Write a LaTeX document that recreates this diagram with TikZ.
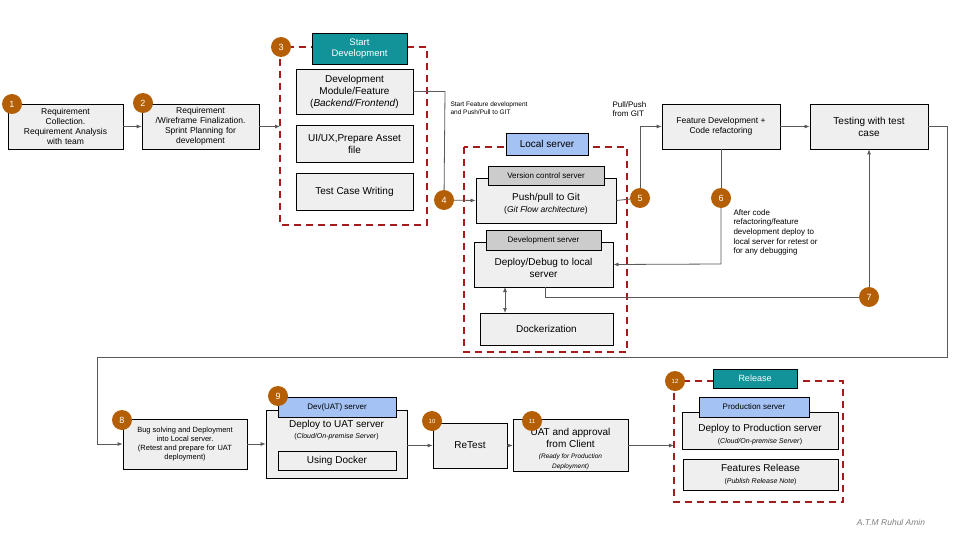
\documentclass[tikz,border=0pt]{standalone}
\usepackage{fontspec}
\setmainfont{Liberation Sans}
\usetikzlibrary{arrows.meta}
\definecolor{circ}{HTML}{B45F06}
\definecolor{boxf}{HTML}{EFEFEF}
\definecolor{teal1}{HTML}{12939A}
\definecolor{blue1}{HTML}{A4C2F4}
\definecolor{dred}{HTML}{A61C1C}
\definecolor{lgray}{HTML}{595959}
\begin{document}
\begin{tikzpicture}[x=1pt,y=-1pt,
  box/.style={draw=black,fill=boxf,line width=0.8pt,align=center,inner sep=1pt},
  hdr/.style={draw=black,line width=0.8pt,align=center,inner sep=1pt},
  num/.style={circle,fill=circ,text=white,minimum size=20pt,inner sep=0pt,font=\fontsize{9}{10}\selectfont},
  grp/.style={draw=dred,line width=1.8pt,dash pattern=on 7pt off 5pt},
  ar/.style={draw=lgray,line width=0.8pt,-{Latex[length=5pt,width=4pt]}},
  ln/.style={draw=lgray,line width=0.8pt},
  f/.style={font=\fontsize{#1}{\dimexpr#1pt*6/5\relax}\selectfont}]
\useasboundingbox (0,0) rectangle (960,540);
% Row 1
\node[box,f=8.5,minimum width=115,minimum height=45,text width=112] (b1) at (65.5,126.5) {Requirement\\Collection.\\Requirement Analysis\\with team};
\node[box,f=8.5,minimum width=117,minimum height=45,text width=114] (b2) at (200.5,126.5) {Requirement\\/Wireframe Finalization.\\Sprint Planning for\\development};
\draw[grp] (280,47) rectangle (427,225);
\node[hdr,fill=teal1,text=white,f=9.5,minimum width=95,minimum height=31] (sd) at (359.5,48.5) {Start\\Development};
\node[box,f=10,minimum width=117,minimum height=45] (dm) at (354.5,91.5) {Development\\Module/Feature\\(\textit{Backend/Frontend})};
\node[box,f=10,minimum width=117,minimum height=37] (ui) at (354.5,143.5) {UI/UX,Prepare Asset\\file};
\node[box,f=10,minimum width=117,minimum height=37] (tc) at (354.5,191.5) {Test Case Writing};
\node[num] (n1) at (12,104) {1};
\node[num] (n2) at (143,103) {2};
\node[num] (n3) at (281,47) {3};
\draw[ar] (b1) -- (b2);
\draw[ar] (b2.east) -- (280,126.5);
% local server group
\draw[grp] (464,147) rectangle (627,352);
\node[hdr,fill=blue1,f=10,minimum width=82,minimum height=22] (ls) at (547,144) {Local server};
\node[box,minimum width=140,minimum height=45,f=10] (pp) at (546,200.5) {\\[2pt]Push/pull to Git\\{\fontsize{8.5}{10}\selectfont(\textit{Git Flow architecture})}};
\node[box,fill=black!20,f=8,minimum width=116,minimum height=19] (vc) at (546,175.5) {Version control server};
\node[box,minimum width=139,minimum height=45,f=10] (dl) at (543.5,264.5) {\\[2pt]Deploy/Debug to local\\server};
\node[box,fill=black!20,f=8,minimum width=115,minimum height=20] (ds) at (543.5,240) {Development server};
\node[box,f=10,minimum width=133,minimum height=32] (dk) at (546.5,329) {Dockerization};
\draw[ln,{Latex[length=5pt,width=4pt]}-{Latex[length=5pt,width=4pt]}] (505,287) -- (505,313);
\node[num] (n4) at (444,200) {4};
\draw[ln] (dm.east) -- (445,91.5) -- (n4);
\node[anchor=north west,align=left,f=6.5] at (447,98) {Start Feature development\\and Push/Pull to GIT};
\draw[ar] (n4) -- (pp.west);
\node[box,f=8.5,minimum width=118,minimum height=45] (fd) at (721,126.5) {Feature Development +\\Code refactoring};
\node[box,f=10,minimum width=118,minimum height=45] (tw) at (869,126.5) {Testing with test\\case};
\node[num] (n5) at (640,198) {5};
\draw[ln] (pp.east) -- (n5);
\draw[ar] (n5) -- (640,126.5) -- (fd.west);
\node[anchor=north west,align=left,f=8] at (609,98) {Pull/Push\\from GIT};
\draw[ar] (fd) -- (tw);
\node[num] (n6) at (721,198) {6};
\draw[ln] (fd.south) -- (n6);
\draw[ar] (n6) -- (721,264) -- (dl.east);
\node[anchor=north west,align=left,f=8] at (730,206) {After code\\refactoring/feature\\development deploy to\\local server for retest or\\for any debugging};
\node[num] (n7) at (869,297) {7};
\draw[ln] (545,287) -- (545,297) -- (n7);
\draw[ar] (n7) -- (tw.south);
% row 3
\node[box,f=7.5,minimum width=124,minimum height=50] (b8) at (185,444) {Bug solving and Deployment\\into Local server.\\(Retest and prepare for UAT\\deployment)};
\draw[ar] (tw.east) -- (947,126.5) -- (947,357) -- (97,357) -- (97,444) -- (b8.west);
\node[num] (n8) at (122,420) {8};
\node[box,minimum width=141,minimum height=68,anchor=north] (b9) at (336.5,410) {};
\node[anchor=north,align=center,f=10] at (336.5,417) {Deploy to UAT server\\[-1pt]{\fontsize{7}{8}\selectfont(\textit{Cloud/On-premise Server})}};
\node[box,f=10,minimum width=118,minimum height=19] (ud) at (337,460.5) {Using Docker};
\node[hdr,fill=blue1,f=8,minimum width=118,minimum height=20] (uh) at (337,407) {Dev(UAT) server};
\node[num] (n9) at (278,396) {9};
\draw[ar] (b8) -- (b9.west|-b8);
\node[box,f=10,minimum width=74,minimum height=45] (b10) at (470,445.5) {ReTest};
\draw[ar] (407,445.5) -- (b10.west);
\node[num,f=6] (n10) at (432,421) {10};
\node[box,f=10,minimum width=115,minimum height=45] (b11) at (570.5,445.5) {\\[3pt]UAT and approval\\from Client\\[-1pt]{\fontsize{6.5}{7.5}\selectfont\textit{(Ready for Production}}\\[-2pt]{\fontsize{6.5}{7.5}\selectfont\textit{Deployment)}}};
\node[num,f=6] (n11) at (532,421) {11};
\draw[ar] (b10) -- (b11);
\draw[grp] (674,381) rectangle (843,502);
\draw[ar] (b11.east) -- (674,445.5);
\node[hdr,fill=teal1,text=white,f=9,minimum width=84,minimum height=19] (rl) at (755,378.5) {Release};
\node[box,minimum width=156,minimum height=37,f=10] (dp) at (760,430.5) {\\[3pt]Deploy to Production server\\{\fontsize{7}{8}\selectfont(\textit{Cloud/On-premise Server})}};
\node[hdr,fill=blue1,f=8,minimum width=110,minimum height=20] (ph) at (754,407) {Production server};
\node[box,minimum width=155,minimum height=31,f=10] (fr) at (760.5,474.5) {Features Release\\{\fontsize{7}{8}\selectfont(\textit{Publish Release Note})}};
\node[num,f=6] (n12) at (675,381) {12};
\node[text=gray,font=\fontsize{8.5}{10}\selectfont\itshape] (au) at (891,522) {A.T.M Ruhul Amin};
\end{tikzpicture}
\end{document}
